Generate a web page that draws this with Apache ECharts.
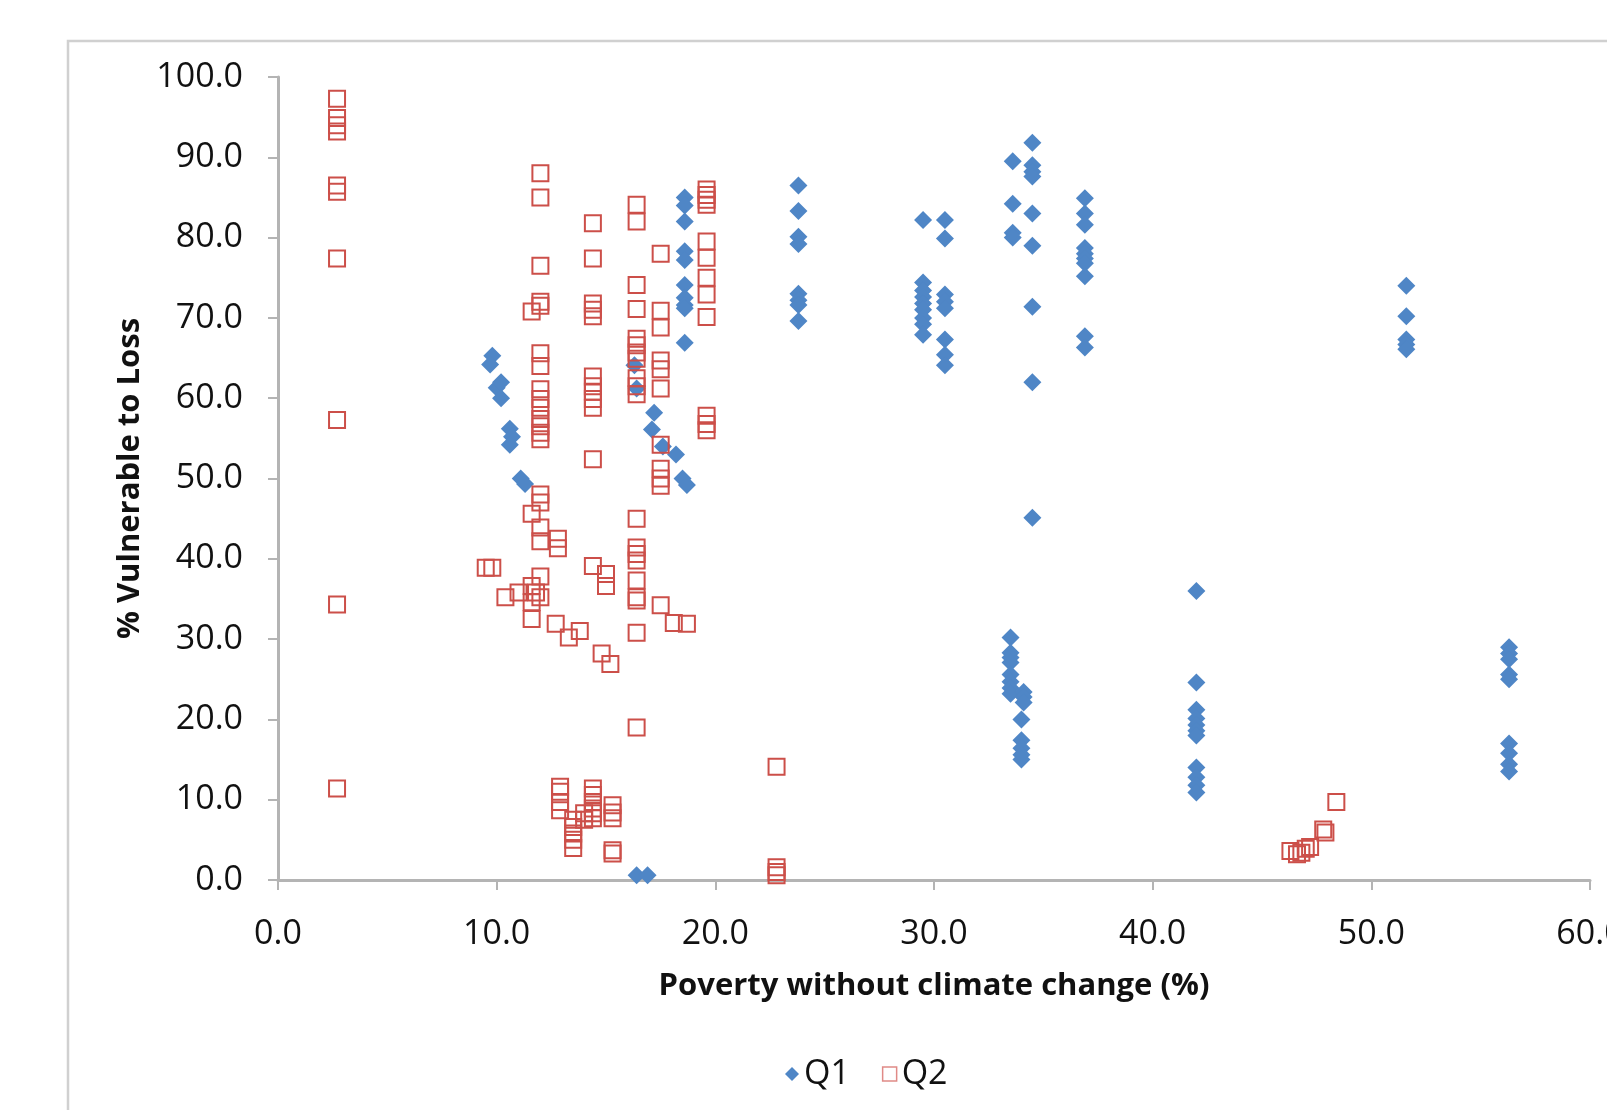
<!DOCTYPE html>
<html>
<head>
<meta charset="utf-8">
<script src="https://cdn.jsdelivr.net/npm/echarts@6/dist/echarts.min.js"></script>
<style>
  html, body { margin: 0; padding: 0; background: #fff; overflow: hidden; }
  #chart { width: 1607px; height: 1110px; }
</style>
</head>
<body>
<div id="chart"></div>
<script>
// Axis ticks
const xTicks = [0, 10, 20, 30, 40, 50, 60];
const yTicks = [0, 10, 20, 30, 40, 50, 60, 70, 80, 90, 100];

// Q1: [poverty without climate change %, % vulnerable to loss]
const q1 = [
  [9.8, 65.3], [9.7, 64.2], [10.0, 61.3], [10.2, 62.0], [10.2, 60.0],
  [10.6, 56.2], [10.7, 55.2], [10.6, 54.2], [11.1, 50.0], [11.3, 49.3],
  [16.3, 64.1], [16.4, 61.2], [16.4, 0.6], [16.9, 0.6],
  [17.2, 58.2], [17.1, 56.1], [17.6, 54.0], [18.2, 53.0], [18.5, 50.0], [18.7, 49.2],
  [18.6, 85.0], [18.6, 84.0], [18.6, 82.0], [18.6, 78.3], [18.6, 77.2],
  [18.6, 74.1], [18.6, 72.5], [18.6, 71.6], [18.6, 71.2], [18.6, 66.9],
  [23.8, 86.5], [23.8, 83.3], [23.8, 80.1], [23.8, 79.2], [23.8, 73.0],
  [23.8, 72.2], [23.8, 71.6], [23.8, 69.6],
  [29.5, 82.2], [29.5, 74.4], [29.5, 73.4], [29.5, 72.6], [29.5, 71.8],
  [29.5, 71.0], [29.5, 70.0], [29.5, 69.2], [29.5, 67.9],
  [30.5, 82.2], [30.5, 79.9], [30.5, 72.9], [30.5, 72.0], [30.5, 71.2],
  [30.5, 67.3], [30.5, 65.4], [30.5, 64.1],
  [33.6, 89.5], [33.6, 84.2], [33.6, 80.6], [33.6, 80.0],
  [34.5, 91.8], [34.5, 89.0], [34.5, 88.2], [34.5, 87.6], [34.5, 83.0],
  [34.5, 79.0], [34.5, 71.4], [34.5, 62.0], [34.5, 45.1],
  [36.9, 84.9], [36.9, 83.0], [36.9, 81.6], [36.9, 78.7], [36.9, 78.0],
  [36.9, 77.4], [36.9, 76.8], [36.9, 75.2], [36.9, 67.7], [36.9, 66.3],
  [33.5, 30.2], [33.5, 28.3], [33.5, 27.7], [33.5, 27.1], [33.5, 25.6],
  [33.5, 24.7], [33.5, 23.9], [33.5, 23.2],
  [34.1, 23.4], [34.1, 22.8], [34.1, 22.1], [34.0, 20.0], [34.0, 17.4],
  [34.0, 16.4], [34.0, 15.6], [34.0, 15.0],
  [42.0, 36.0], [42.0, 24.6], [42.0, 21.2], [42.0, 20.1], [42.0, 19.3],
  [42.0, 18.6], [42.0, 18.0], [42.0, 14.0], [42.0, 12.8], [42.0, 11.8], [42.0, 10.9],
  [51.6, 74.0], [51.6, 70.2], [51.6, 67.3], [51.6, 66.7], [51.6, 66.1],
  [56.3, 29.0], [56.3, 28.2], [56.3, 27.5], [56.3, 25.6], [56.3, 25.0],
  [56.3, 17.0], [56.3, 15.8], [56.3, 14.4], [56.3, 13.5]
];

// Q2
const q2 = [
  [2.7, 97.3], [2.7, 94.9], [2.7, 94.0], [2.7, 93.2], [2.7, 86.5],
  [2.7, 85.7], [2.7, 77.4], [2.7, 57.3], [2.7, 34.3], [2.7, 11.4],
  [9.5, 38.9], [9.8, 38.9], [10.4, 35.2], [11.0, 35.8],
  [11.6, 70.8], [11.6, 45.6], [11.6, 36.6], [11.6, 34.6], [11.6, 32.5], [11.8, 35.8],
  [12.0, 88.0], [12.0, 85.0], [12.0, 76.5], [12.0, 72.0], [12.0, 71.5],
  [12.0, 65.6], [12.0, 64.0], [12.0, 61.1], [12.0, 59.9], [12.0, 58.8],
  [12.0, 57.4], [12.0, 56.5], [12.0, 55.7], [12.0, 54.9], [12.0, 48.0],
  [12.0, 47.0], [12.0, 43.9], [12.0, 42.2], [12.0, 37.8], [12.0, 35.2],
  [12.8, 42.5], [12.8, 41.3], [12.7, 31.9], [13.3, 30.2], [13.8, 31.0],
  [12.9, 11.6], [12.9, 11.0], [12.9, 9.7], [12.9, 8.7],
  [13.5, 7.5], [13.5, 6.6], [13.5, 5.8], [13.5, 5.0], [13.5, 4.0],
  [14.0, 8.3], [14.0, 7.5],
  [14.4, 81.8], [14.4, 77.4], [14.4, 71.8], [14.4, 71.0], [14.4, 70.2],
  [14.4, 62.7], [14.4, 61.5], [14.4, 60.8], [14.4, 59.9], [14.4, 58.8],
  [14.4, 52.4], [14.4, 39.1], [14.4, 11.4], [14.4, 10.6], [14.4, 9.7],
  [14.4, 8.9], [14.4, 8.3], [14.4, 7.7],
  [15.0, 38.1], [15.0, 36.6], [14.8, 28.2], [15.2, 26.9],
  [15.3, 9.3], [15.3, 8.4], [15.3, 7.7], [15.3, 3.7], [15.3, 3.3],
  [16.4, 84.1], [16.4, 82.0], [16.4, 74.1], [16.4, 71.1], [16.4, 67.4],
  [16.4, 66.6], [16.4, 65.7], [16.4, 64.9], [16.4, 62.5], [16.4, 61.5],
  [16.4, 60.5], [16.4, 45.0], [16.4, 41.4], [16.4, 40.6], [16.4, 39.8],
  [16.4, 37.3], [16.4, 35.2], [16.4, 34.8], [16.4, 30.8], [16.4, 19.0],
  [17.5, 78.0], [17.5, 70.9], [17.5, 68.8], [17.5, 64.7], [17.5, 63.6],
  [17.5, 61.2], [17.5, 54.2], [17.5, 51.2], [17.5, 50.0], [17.5, 49.1], [17.5, 34.2],
  [18.1, 32.0], [18.7, 31.9],
  [19.6, 86.0], [19.6, 85.3], [19.6, 84.7], [19.6, 84.1], [19.6, 79.5],
  [19.6, 77.5], [19.6, 75.0], [19.6, 72.9], [19.6, 70.1], [19.6, 57.8],
  [19.6, 56.8], [19.6, 56.0],
  [22.8, 14.1], [22.8, 1.6], [22.8, 1.0], [22.8, 0.6],
  [46.3, 3.6], [46.6, 3.2], [46.8, 3.4], [47.0, 3.9], [47.2, 4.1],
  [47.8, 6.3], [47.9, 5.9], [48.4, 9.7]
];

const blue = "#4F86C6";
const red = "#CC4F49";
const axisGray = "#b4b4b4";
const font = "'Open Sans', 'Noto Sans', sans-serif";

const chart = echarts.init(document.getElementById("chart"));

const option = {
  backgroundColor: "#fff",
  animation: false,
  textStyle: { fontFamily: font },
  graphic: [
    {
      // outer chart frame, runs off the right and bottom of the picture
      type: "rect",
      z: -10,
      shape: { x: 68, y: 41, width: 2000, height: 2000 },
      style: { fill: "none", stroke: "#d0d0d0", lineWidth: 2.5 }
    }
  ],
  grid: {
    left: 278,
    top: 77,
    width: 1312,
    height: 803,
    containLabel: false,
    outerBoundsMode: "none"
  },
  legend: {
    left: 780,
    top: 1052,
    itemWidth: 14,
    itemHeight: 14,
    itemGap: 32,
    textStyle: { fontSize: 34, color: "#111", fontFamily: font },
    data: [
      { name: "Q1", icon: "diamond", itemStyle: { color: blue } },
      { name: "Q2", icon: "rect", itemStyle: { color: "transparent", borderColor: "#e08a87", borderWidth: 1.5 } }
    ]
  },
  xAxis: {
    type: "value",
    min: xTicks[0],
    max: xTicks[xTicks.length - 1],
    interval: 10,
    name: "Poverty without climate change (%)",
    nameLocation: "middle",
    nameGap: 91,
    nameTextStyle: { fontSize: 31, fontWeight: "bold", color: "#111", fontFamily: font },
    axisLine: { show: true, lineStyle: { color: axisGray, width: 3 } },
    axisTick: { show: true, length: 10, lineStyle: { color: axisGray, width: 2 } },
    axisLabel: {
      fontSize: 34,
      color: "#111",
      margin: 37,
      formatter: (v) => v.toFixed(1)
    },
    splitLine: { show: false }
  },
  yAxis: {
    type: "value",
    min: yTicks[0],
    max: yTicks[yTicks.length - 1],
    interval: 10,
    name: "% Vulnerable to Loss",
    nameLocation: "middle",
    nameGap: 130,
    nameTextStyle: { fontSize: 31, fontWeight: "bold", color: "#111", fontFamily: font },
    axisLine: { show: true, lineStyle: { color: axisGray, width: 3 } },
    axisTick: { show: true, length: 10, lineStyle: { color: axisGray, width: 2 } },
    axisLabel: {
      fontSize: 34,
      color: "#111",
      margin: 35,
      formatter: (v) => v.toFixed(1)
    },
    splitLine: { show: false }
  },
  series: [
    {
      name: "Q1",
      type: "scatter",
      symbol: "diamond",
      symbolSize: 18,
      data: q1,
      itemStyle: { color: blue, opacity: 1 },
      z: 2
    },
    {
      name: "Q2",
      type: "scatter",
      symbol: "rect",
      symbolSize: 16,
      data: q2,
      itemStyle: { color: "transparent", borderColor: red, borderWidth: 2, opacity: 1 },
      z: 3
    }
  ]
};

chart.setOption(option);
</script>
</body>
</html>
